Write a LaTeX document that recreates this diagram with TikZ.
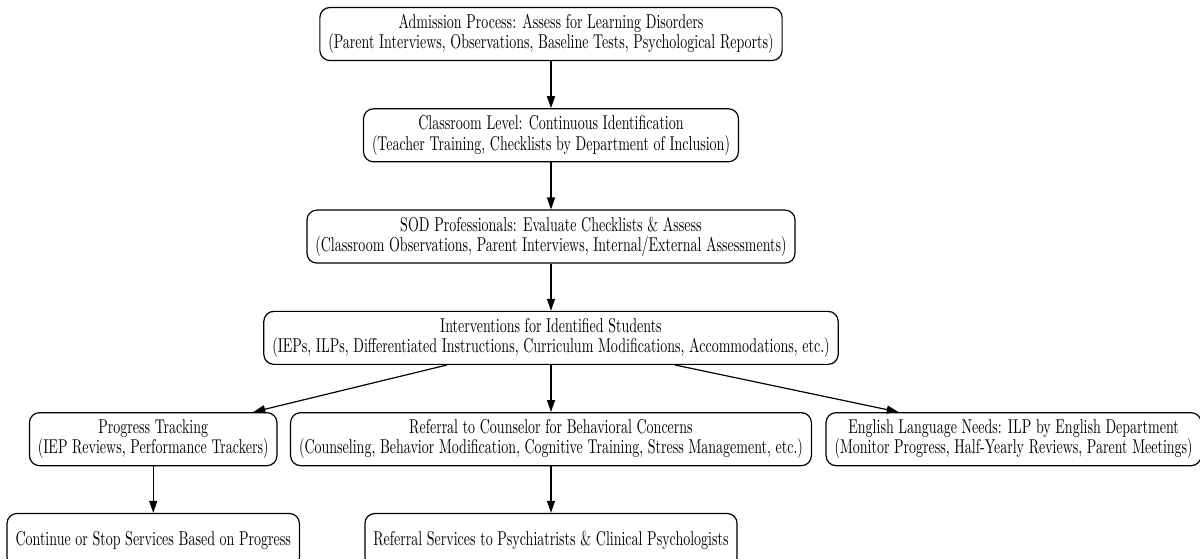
\documentclass[tikz,border=0pt]{standalone}
\usepackage{graphicx}
\usetikzlibrary{arrows.meta}

\newcommand{\cond}[1]{\scalebox{0.70}[1]{#1}}

\begin{document}
\begin{tikzpicture}[-,>={Stealth[length=6pt,width=4pt,inset=0pt]},shorten >=0pt,node distance=1.78cm,line width=0.6pt,box node/.style={draw,rounded corners=5pt,align=center,inner xsep=4.25pt,inner ysep=3pt,minimum height=26.5pt,font=\fontsize{10}{10.2}\selectfont}]

            \useasboundingbox (-275.5pt,17pt) rectangle (324.5pt,-262pt);

            \node[box node] (admit) []{\cond{Admission Process: Assess for Learning Disorders}\\\cond{(Parent Interviews, Observations, Baseline Tests, Psychological Reports)}};
            \node[box node] (class) [below of = admit]{\cond{Classroom Level: Continuous Identification}\\\cond{(Teacher Training, Checklists by Department of Inclusion)}};
            \node[box node] (sod) [below of = class]{\cond{SOD Professionals: Evaluate Checklists \& Assess}\\\cond{(Classroom Observations, Parent Interviews, Internal/External Assessments)}};
            \node[box node] (interv) [below of = sod]{\cond{Interventions for Identified Students}\\\cond{(IEPs, ILPs, Differentiated Instructions, Curriculum Modifications, Accommodations, etc.)}};
            \node[box node] (refer) [below of = interv]{\cond{Referral to Counselor for Behavioral Concerns}\\\cond{(Counseling, Behavior Modification, Cognitive Training, Stress Management, etc.)}};
            \node[box node] (prog) [left of = refer, node distance=6.99cm]{\cond{Progress Tracking}\\\cond{(IEP Reviews, Performance Trackers)}};
            \node[box node] (eng) [right of = refer, node distance=8.13cm]{\cond{English Language Needs: ILP by English Department}\\\cond{(Monitor Progress, Half-Yearly Reviews, Parent Meetings)}};
            \node[box node, minimum height=27pt] (cont) [below of = prog]{\cond{Continue or Stop Services Based on Progress}};
            \node[box node, minimum height=27pt] (psych) [below of = refer]{\cond{Referral Services to Psychiatrists \& Clinical Psychologists}};

            \draw[->] (admit) to (class);
            \draw[->] (class) to (sod);
            \draw[->] (sod) to (interv);
            \draw[->] (interv) to (refer);
            \draw[->] ([xshift=-52pt]interv.south) to ([xshift=50pt]prog.north);
            \draw[->] ([xshift=62pt]interv.south) to ([xshift=-57.5pt]eng.north);
            \draw[->] (prog) to (cont);
            \draw[->] (refer) to (psych);

            ;
        \end{tikzpicture}
\end{document}
